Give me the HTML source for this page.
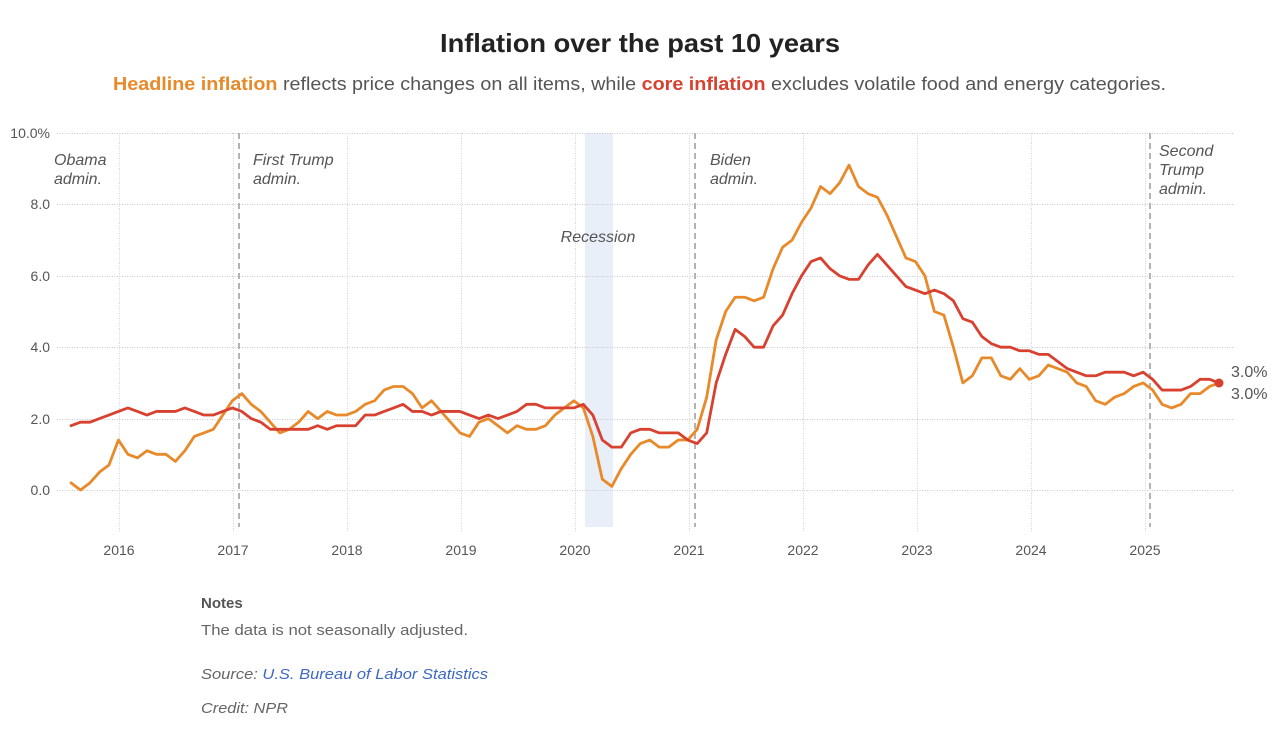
<!DOCTYPE html>
<html><head><meta charset="utf-8"><style>
html,body{margin:0;padding:0;background:#fff;}
svg{display:block;font-family:"Liberation Sans",sans-serif;}
</style></head><body>
<svg width="1286" height="737" viewBox="0 0 1286 737" xmlns="http://www.w3.org/2000/svg">
<rect width="1286" height="737" fill="#fff"/>
<text x="640" y="52" text-anchor="middle" font-size="26" font-weight="bold" fill="#222" textLength="400" lengthAdjust="spacingAndGlyphs">Inflation over the past 10 years</text>
<text x="113" y="90" font-size="18" fill="#555" textLength="1053" lengthAdjust="spacingAndGlyphs"><tspan fill="#e8892a" font-weight="bold">Headline inflation</tspan> reflects price changes on all items, while <tspan fill="#d8412f" font-weight="bold">core inflation</tspan> excludes volatile food and energy categories.</text>

<rect x="585" y="133" width="28" height="394" fill="#e9eff9"/>

<g stroke="#c8c8c8" stroke-width="1" stroke-dasharray="1,1.5">
<line x1="57" y1="133.5" x2="1234" y2="133.5"/>
<line x1="57" y1="204.5" x2="1234" y2="204.5"/>
<line x1="57" y1="276.5" x2="1234" y2="276.5"/>
<line x1="57" y1="347.5" x2="1234" y2="347.5"/>
<line x1="57" y1="419.5" x2="1234" y2="419.5"/>
<line x1="57" y1="490.5" x2="1234" y2="490.5"/>
</g>
<g stroke="#d6d0dc" stroke-width="1" stroke-dasharray="1,1.5">
<line x1="119.5" y1="133" x2="119.5" y2="532"/>
<line x1="233.5" y1="133" x2="233.5" y2="532"/>
<line x1="347.5" y1="133" x2="347.5" y2="532"/>
<line x1="461.5" y1="133" x2="461.5" y2="532"/>
<line x1="575.5" y1="133" x2="575.5" y2="532"/>
<line x1="689.5" y1="133" x2="689.5" y2="532"/>
<line x1="803.5" y1="133" x2="803.5" y2="532"/>
<line x1="917.5" y1="133" x2="917.5" y2="532"/>
<line x1="1031.5" y1="133" x2="1031.5" y2="532"/>
<line x1="1145.5" y1="133" x2="1145.5" y2="532"/>
</g>
<g stroke="#b4b4b4" stroke-width="2" stroke-dasharray="6,4">
<line x1="239" y1="133" x2="239" y2="527"/>
<line x1="695" y1="133" x2="695" y2="527"/>
<line x1="1150" y1="133" x2="1150" y2="527"/>
</g>

<g font-size="14" fill="#555" text-anchor="end">
<text x="50" y="138">10.0%</text>
<text x="50" y="209">8.0</text>
<text x="50" y="281">6.0</text>
<text x="50" y="352">4.0</text>
<text x="50" y="424">2.0</text>
<text x="50" y="495">0.0</text>
</g>
<g font-size="14" fill="#555" text-anchor="middle">
<text x="119" y="555">2016</text>
<text x="233" y="555">2017</text>
<text x="347" y="555">2018</text>
<text x="461" y="555">2019</text>
<text x="575" y="555">2020</text>
<text x="689" y="555">2021</text>
<text x="803" y="555">2022</text>
<text x="917" y="555">2023</text>
<text x="1031" y="555">2024</text>
<text x="1145" y="555">2025</text>
</g>

<g font-size="16" font-style="italic" fill="#555">
<text x="54" y="165">Obama</text>
<text x="54" y="184">admin.</text>
<text x="253" y="165">First Trump</text>
<text x="253" y="184">admin.</text>
<text x="710" y="165">Biden</text>
<text x="710" y="184">admin.</text>
<text x="1159" y="156">Second</text>
<text x="1159" y="175">Trump</text>
<text x="1159" y="194">admin.</text>
<text x="598" y="242" text-anchor="middle">Recession</text>
</g>

<g transform="translate(71,490) scale(9.488,-35.7)" fill="none" stroke-linejoin="round" stroke-linecap="round">
<polyline vector-effect="non-scaling-stroke" stroke="#e8892a" stroke-width="2.8" points="0,0.2 1,0.0 2,0.2 3,0.5 4,0.7 5,1.4 6,1.0 7,0.9 8,1.1 9,1.0 10,1.0 11,0.8 12,1.1 13,1.5 14,1.6 15,1.7 16,2.1 17,2.5 18,2.7 19,2.4 20,2.2 21,1.9 22,1.6 23,1.7 24,1.9 25,2.2 26,2.0 27,2.2 28,2.1 29,2.1 30,2.2 31,2.4 32,2.5 33,2.8 34,2.9 35,2.9 36,2.7 37,2.3 38,2.5 39,2.2 40,1.9 41,1.6 42,1.5 43,1.9 44,2.0 45,1.8 46,1.6 47,1.8 48,1.7 49,1.7 50,1.8 51,2.1 52,2.3 53,2.5 54,2.3 55,1.5 56,0.3 57,0.1 58,0.6 59,1.0 60,1.3 61,1.4 62,1.2 63,1.2 64,1.4 65,1.4 66,1.7 67,2.6 68,4.2 69,5.0 70,5.4 71,5.4 72,5.3 73,5.4 74,6.2 75,6.8 76,7.0 77,7.5 78,7.9 79,8.5 80,8.3 81,8.6 82,9.1 83,8.5 84,8.3 85,8.2 86,7.7 87,7.1 88,6.5 89,6.4 90,6.0 91,5.0 92,4.9 93,4.0 94,3.0 95,3.2 96,3.7 97,3.7 98,3.2 99,3.1 100,3.4 101,3.1 102,3.2 103,3.5 104,3.4 105,3.3 106,3.0 107,2.9 108,2.5 109,2.4 110,2.6 111,2.7 112,2.9 113,3.0 114,2.8 115,2.4 116,2.3 117,2.4 118,2.7 119,2.7 120,2.9 121,3.0"/>
<polyline vector-effect="non-scaling-stroke" stroke="#d8412f" stroke-width="2.8" points="0,1.8 1,1.9 2,1.9 3,2.0 4,2.1 5,2.2 6,2.3 7,2.2 8,2.1 9,2.2 10,2.2 11,2.2 12,2.3 13,2.2 14,2.1 15,2.1 16,2.2 17,2.3 18,2.2 19,2.0 20,1.9 21,1.7 22,1.7 23,1.7 24,1.7 25,1.7 26,1.8 27,1.7 28,1.8 29,1.8 30,1.8 31,2.1 32,2.1 33,2.2 34,2.3 35,2.4 36,2.2 37,2.2 38,2.1 39,2.2 40,2.2 41,2.2 42,2.1 43,2.0 44,2.1 45,2.0 46,2.1 47,2.2 48,2.4 49,2.4 50,2.3 51,2.3 52,2.3 53,2.3 54,2.4 55,2.1 56,1.4 57,1.2 58,1.2 59,1.6 60,1.7 61,1.7 62,1.6 63,1.6 64,1.6 65,1.4 66,1.3 67,1.6 68,3.0 69,3.8 70,4.5 71,4.3 72,4.0 73,4.0 74,4.6 75,4.9 76,5.5 77,6.0 78,6.4 79,6.5 80,6.2 81,6.0 82,5.9 83,5.9 84,6.3 85,6.6 86,6.3 87,6.0 88,5.7 89,5.6 90,5.5 91,5.6 92,5.5 93,5.3 94,4.8 95,4.7 96,4.3 97,4.1 98,4.0 99,4.0 100,3.9 101,3.9 102,3.8 103,3.8 104,3.6 105,3.4 106,3.3 107,3.2 108,3.2 109,3.3 110,3.3 111,3.3 112,3.2 113,3.3 114,3.1 115,2.8 116,2.8 117,2.8 118,2.9 119,3.1 120,3.1 121,3.0"/>
</g>
<circle cx="1219" cy="383" r="4.5" fill="#d8412f"/>
<g font-size="16" fill="#555">
<text x="1231" y="377">3.0%</text>
<text x="1231" y="399">3.0%</text>
</g>

<text x="201" y="608" font-size="15" font-weight="bold" fill="#555">Notes</text>
<text x="201" y="635" font-size="15" fill="#666" textLength="267" lengthAdjust="spacingAndGlyphs">The data is not seasonally adjusted.</text>
<text x="201" y="679" font-size="15" font-style="italic" fill="#666" textLength="287" lengthAdjust="spacingAndGlyphs">Source: <tspan fill="#3d68c4">U.S. Bureau of Labor Statistics</tspan></text>
<text x="201" y="713" font-size="15" font-style="italic" fill="#666" textLength="87" lengthAdjust="spacingAndGlyphs">Credit: NPR</text>
</svg>
</body></html>
